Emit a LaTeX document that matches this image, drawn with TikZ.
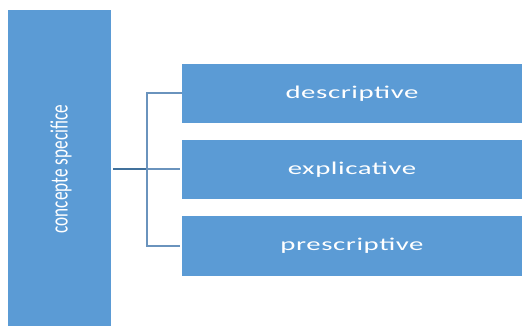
\documentclass[tikz,border=0pt]{standalone}
\usepackage{fontspec}
\setmainfont{Carlito}
\newfontfamily\boxfont[LetterSpace=2]{Carlito}
\definecolor{boxblue}{HTML}{5B9BD5}
\definecolor{linestub}{HTML}{41719C}
\definecolor{linebr}{HTML}{6A93BD}
\tikzset{
  bluebox/.style={fill=boxblue, draw=none, inner sep=0pt, text=white},
  conn/.style={draw=linebr, line width=2pt},
  stubline/.style={draw=linestub, line width=2pt}
}
\newcommand{\boxtxt}[1]{\scalebox{1.6}[1]{\boxfont\fontsize{18}{20}\selectfont #1}}
\begin{document}
\begin{tikzpicture}[x=1pt,y=1pt]
\useasboundingbox (0,0) rectangle (522,326);
\fill[white] (0,0) rectangle (522,326);
\node[bluebox, minimum width=103pt, minimum height=316pt] (L) at (59.5,158) {};
\node[rotate=90, text=white, inner sep=0pt] (Lt) at (61,157)
  {\scalebox{1}[1.45]{\fontsize{17.2}{20}\selectfont concepte specifice}};
\node[bluebox, minimum width=340pt, minimum height=59pt] (B1) at (352,232.5) {\boxtxt{descriptive}};
\node[bluebox, minimum width=340pt, minimum height=59pt] (B2) at (352,156.5) {\boxtxt{explicative}};
\node[bluebox, minimum width=340pt, minimum height=60pt] (B3) at (352,80) {\boxtxt{prescriptive}};
\coordinate (J) at (147,156.5);
\coordinate (J1) at (147,232.5);
\coordinate (J3) at (147,80);
\draw[stubline, shorten <=2pt] (L.east |- J) -- (J);
\draw[conn, shorten >=2pt] (B1.west) -- (J1) -- (J3) -- (B3.west);
\draw[conn, shorten >=2pt] (J) -- (B2.west);
\end{tikzpicture}
\end{document}
